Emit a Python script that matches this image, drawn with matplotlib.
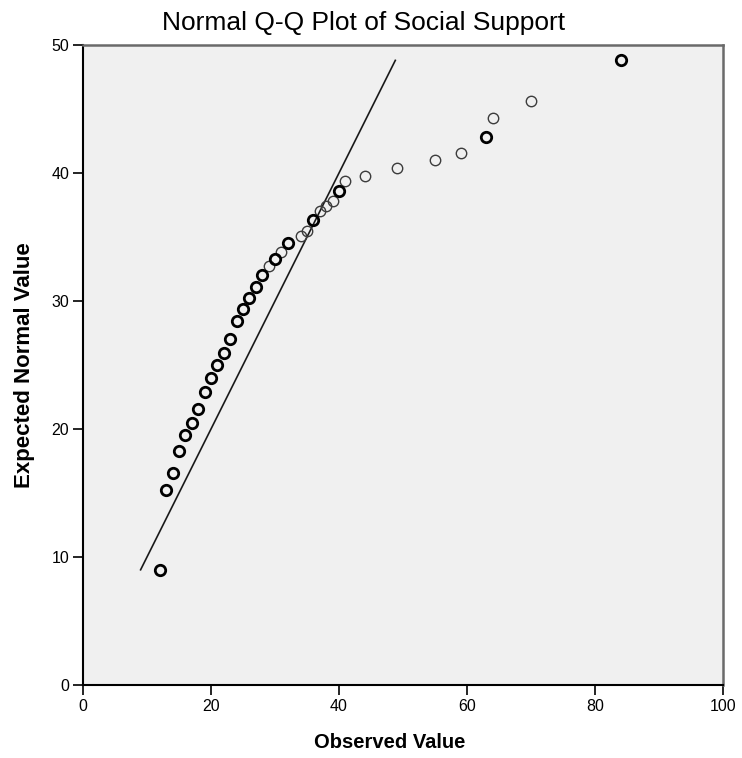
import numpy as np
import matplotlib.pyplot as plt

# ---- Data ----
observed = [12, 13, 14, 15, 16, 17, 18, 19, 20, 21, 22, 23, 24, 25, 26, 27,
            28, 29, 30, 31, 32, 34, 35, 36, 37, 38, 39, 40, 41, 44, 49, 55,
            59, 63, 64, 70, 84]
expected = [9.0, 15.2, 16.6, 18.3, 19.5, 20.5, 21.6, 22.9, 24.0, 25.0, 25.9,
            27.0, 28.4, 29.4, 30.2, 31.1, 32.0, 32.7, 33.3, 33.8, 34.5, 35.1,
            35.5, 36.3, 37.0, 37.4, 37.8, 38.6, 39.4, 39.8, 40.4, 41.0, 41.6,
            42.8, 44.3, 45.6, 48.8]
# points drawn heavier in the original (several cases on the same value)
repeated = [1, 1, 1, 1, 1, 1, 1, 1, 1, 1, 1, 1, 1, 1, 1, 1,
            1, 0, 1, 0, 1, 0, 0, 1, 0, 0, 0, 1, 0, 0, 0, 0,
            0, 1, 0, 0, 1]
line_range = [9.0, 48.8]

xticks = [0, 20, 40, 60, 80, 100]
yticks = [0, 10, 20, 30, 40, 50]

# ---- Plot ----
plt.rcParams['font.family'] = ['Liberation Sans', 'DejaVu Sans']
fig = plt.figure(figsize=(7.42, 7.58), dpi=100)
ax = fig.add_axes([83 / 742, 1 - 685 / 758, 640 / 742, 640 / 758])
ax.set_facecolor('#f0f0f0')

obs = np.array(observed)
exp_ = np.array(expected)
rep = np.array(repeated, dtype=bool)

ax.plot(line_range, line_range, '-', color='#1a1a1a', linewidth=1.2, zorder=2)
ax.plot(obs[~rep], exp_[~rep], 'o', markersize=7.5, markerfacecolor='none',
        markeredgecolor='#3c3c3c', markeredgewidth=1.0, zorder=3)
ax.plot(obs[rep], exp_[rep], 'o', markersize=7.5, markerfacecolor='none',
        markeredgecolor='black', markeredgewidth=2.0, zorder=3)

ax.set_xlim(0, 100)
ax.set_ylim(0, 50)
ax.set_xticks(xticks)
ax.set_yticks(yticks)
ax.tick_params(direction='out', length=7, width=1.2, color='black',
               labelsize=11.5, pad=3)

for side in ['left', 'bottom']:
    ax.spines[side].set_color('black')
    ax.spines[side].set_linewidth(1.5)
for side in ['top', 'right']:
    ax.spines[side].set_color('#6a6a6a')
    ax.spines[side].set_linewidth(1.8)

fig.text(364 / 742, 1 - 23 / 758, 'Normal Q-Q Plot of Social Support',
         fontsize=19, ha='center', va='center')
fig.text(390 / 742, 1 - 743 / 758, 'Observed Value', fontsize=14.5,
         fontweight='bold', ha='center', va='center')
ax.set_ylabel('Expected Normal Value', fontsize=16, fontweight='bold', labelpad=12)

fig.savefig('out.png', dpi=100)
